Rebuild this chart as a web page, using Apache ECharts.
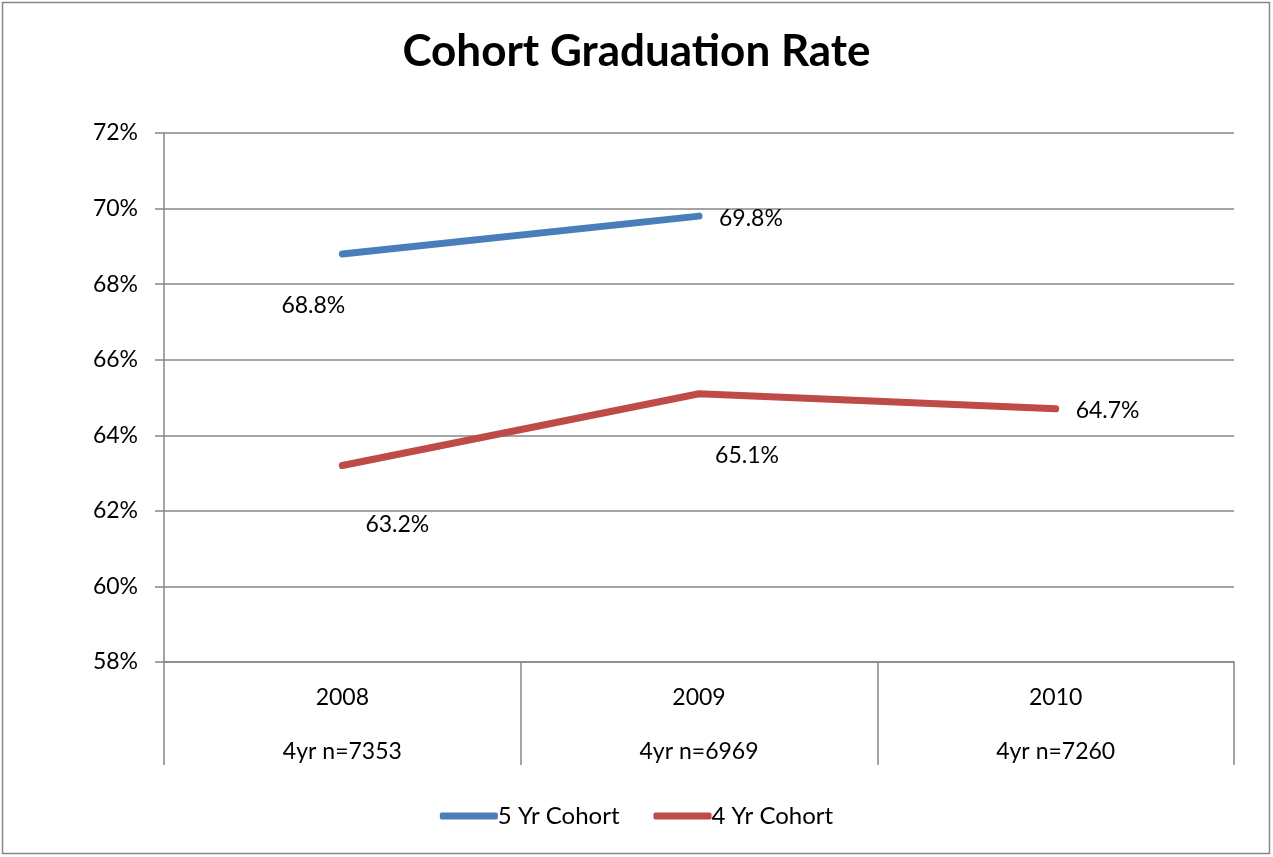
<!DOCTYPE html>
<html>
<head>
<meta charset="utf-8">
<script src="https://cdn.jsdelivr.net/npm/echarts@6/dist/echarts.min.js"></script>
<style>
	html, body { margin: 0; padding: 0; background: #fff; }
	#main { width: 1273px; height: 857px; }
</style>
</head>
<body>
<div id="main"></div>
<script>
var years = ['2008', '2009', '2010'];
var cohortSizes = ['4yr n=7353', '4yr n=6969', '4yr n=7260'];
var fiveYr = [68.8, 69.8, null];
var fourYr = [63.2, 65.1, 64.7];
// where each data label sits relative to its point
var fiveYrLabelPos = [['bottom', [-29, 20]], ['right', [0, 2]]];
var fourYrLabelPos = [['bottom', [55, 28]], ['bottom', [48, 30]], ['right', [0, 2]]];

var chart = echarts.init(document.getElementById('main'));
var font = 'Lato, "Open Sans", sans-serif';

function withLabels(values, pos) {
	return values.map(function(v, i) {
		if (v == null) return null;
		return {
			value: v,
			label: {
				show: true,
				position: pos[i][0],
				offset: pos[i][1],
				distance: 20,
				formatter: v.toFixed(1) + '%',
				color: '#000',
				fontSize: 23,
				fontFamily: font
			}
		};
	});
}

var option = {
	backgroundColor: '#fff',
	animation: false,
	title: {
		text: 'Cohort Graduation Rate',
		left: 'center',
		top: 25,
		textStyle: {
			fontFamily: font,
			fontSize: 44,
			fontWeight: 'bold',
			color: '#000'
		}
	},
	color: ['#4a7ebb', '#be4b48'],
	graphic: [{
		type: 'rect',
		shape: { x: 2.5, y: 2.5, width: 1267, height: 851 },
		style: { fill: 'none', stroke: '#878787', lineWidth: 1.5 },
		silent: true
	}],
	legend: {
		bottom: 24,
		left: 'center',
		icon: 'roundRect',
		itemWidth: 58,
		itemHeight: 7,
		itemGap: 34,
		textStyle: {
			fontFamily: font,
			fontSize: 24,
			color: '#000',
			padding: [0, 0, 0, -5]
		},
		data: ['5 Yr Cohort', '4 Yr Cohort']
	},
	grid: {
		left: 164,
		right: 39,
		top: 133,
		bottom: 195,
		containLabel: false
	},
	xAxis: {
		type: 'category',
		data: years,
		boundaryGap: true,
		axisLine: { show: true, lineStyle: { color: '#868686', width: 1.5 } },
		axisTick: {
			show: true,
			interval: 0,
			length: 103,
			lineStyle: { color: '#868686', width: 1.5 }
		},
		axisLabel: {
			interval: 0,
			margin: 22,
			color: '#000',
			fontFamily: font,
			fontSize: 23,
			lineHeight: 27,
			formatter: function(v, i) {
				return v + '\n\n' + cohortSizes[i];
			}
		},
		splitLine: { show: false }
	},
	yAxis: {
		type: 'value',
		min: 58,
		max: 72,
		interval: 2,
		axisLine: { show: true, lineStyle: { color: '#868686', width: 1.5 } },
		axisTick: { show: true, length: 9, lineStyle: { color: '#868686', width: 1.5 } },
		axisLabel: {
			formatter: '{value}%',
			margin: 26,
			color: '#000',
			fontFamily: font,
			fontSize: 23
		},
		splitLine: { show: true, lineStyle: { color: '#868686', width: 1.5 } }
	},
	series: [{
			name: '5 Yr Cohort',
			type: 'line',
			showSymbol: true,
			symbol: 'circle',
			symbolSize: 0,
			lineStyle: { width: 7, cap: 'round' },
			data: withLabels(fiveYr, fiveYrLabelPos)
		},
		{
			name: '4 Yr Cohort',
			type: 'line',
			showSymbol: true,
			symbol: 'circle',
			symbolSize: 0,
			lineStyle: { width: 7, cap: 'round' },
			data: withLabels(fourYr, fourYrLabelPos)
		}
	]
};

chart.setOption(option);
</script>
</body>
</html>
